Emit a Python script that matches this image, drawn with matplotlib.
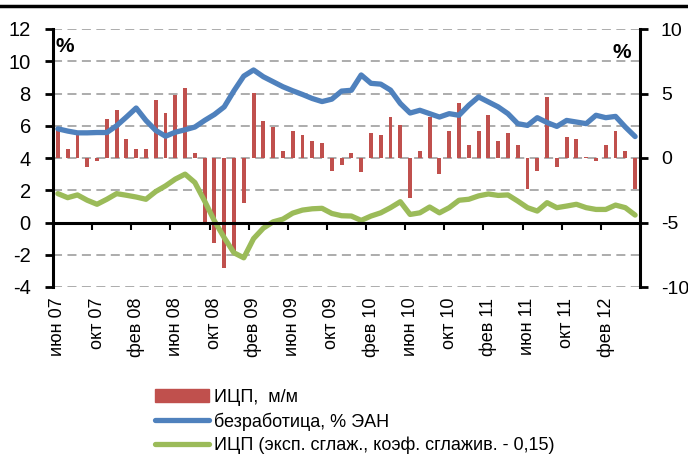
import numpy as np
import matplotlib
matplotlib.use("Agg")
import matplotlib.pyplot as plt
from matplotlib.lines import Line2D
from matplotlib.patches import Patch

plt.rcParams['font.family'] = ['Liberation Sans', 'DejaVu Sans']
plt.rcParams['axes.unicode_minus'] = False

# monthly data, Jun 2007 - May 2012
PPI_MM = [2.2, 0.7, 1.85, -0.68, -0.22, 3.05, 3.7, 1.48, 0.7, 0.7,
          4.48, 3.5, 4.92, 5.39, 0.4, -5.16, -6.62, -8.5, -7.4, -3.5,
          5.05, 2.86, 2.4, 0.57, 2.08, 1.77, 1.3, 1.15, -0.99, -0.52,
          0.36, -1.12, 1.93, 1.77, 3.18, 2.58, -3.13, 0.57, 3.18, -1.25,
          2.08, 4.27, 1.02, 2.08, 3.36, 1.35, 1.93, 1.02, -2.42, -0.99,
          4.74, -0.68, 1.61, 1.48, 0.05, -0.2, 1.02, 2.13, 0.57, -2.42]

UNEMPLOYMENT = [5.81, 5.67, 5.56, 5.56, 5.58, 5.58, 6.0, 6.54, 7.1, 6.33,
                5.71, 5.35, 5.6, 5.75, 5.92, 6.33, 6.7, 7.17, 8.17, 9.08,
                9.46, 9.04, 8.73, 8.42, 8.17, 7.94, 7.69, 7.5, 7.65, 8.15,
                8.2, 9.15, 8.63, 8.58, 8.21, 7.38, 6.79, 6.96, 6.75, 6.54,
                6.75, 6.65, 7.27, 7.79, 7.48, 7.17, 6.75, 6.13, 6.02, 6.5,
                6.2, 5.96, 6.33, 6.23, 6.13, 6.65, 6.5, 6.58, 5.92, 5.33]

PPI_SMOOTH = [1.79, 1.54, 1.71, 1.38, 1.13, 1.44, 1.79, 1.69, 1.58, 1.44,
              1.92, 2.27, 2.69, 3.0, 2.48, 1.33, 0.1, -0.94, -1.88, -2.19,
              -1.0, -0.35, 0.04, 0.21, 0.58, 0.77, 0.85, 0.88, 0.56, 0.42,
              0.4, 0.13, 0.4, 0.6, 0.92, 1.29, 0.5, 0.6, 0.96, 0.6,
              0.92, 1.38, 1.44, 1.65, 1.77, 1.68, 1.71, 1.33, 0.92, 0.71,
              1.23, 0.92, 1.02, 1.13, 0.92, 0.81, 0.81, 1.08, 0.92, 0.46]

TICK_LABELS = ["июн 07", "окт 07", "фев 08", "июн 08", "окт 08",
               "фев 09", "июн 09", "окт 09", "фев 10", "июн 10",
               "окт 10", "фев 11", "июн 11", "окт 11", "фев 12"]

LEGEND_LABELS = ["ИЦП,  м/м", "безработица, % ЭАН",
                 "ИЦП (эксп. сглаж., коэф. сглажив. - 0,15)"]

RED = "#C0504D"
BLUE = "#4F81BD"
GREEN = "#9BBB59"

x = np.arange(len(PPI_MM))

fig = plt.figure(figsize=(6.88, 4.55), dpi=100)
ax = fig.add_axes([53 / 688, 1 - 287 / 455, 587 / 688, 258 / 455])
ax2 = ax.twinx()
ax.set_zorder(ax2.get_zorder() + 1)
ax.patch.set_visible(False)

# -------------------
# bars on the right axis
# -------------------
ax2.bar(x, PPI_MM, width=0.4, color=RED, zorder=2)
ax2.set_ylim(-10, 10)
ax2.set_yticks([-10, -5, 0, 5, 10])
ax2.set_yticks(np.arange(-10, 10.1, 2.5), minor=True)
ax2.set_axisbelow(True)
ax2.grid(axis='y', which='both', color='#A6A6A6', linestyle=(0, (5, 3)),
         linewidth=1.3)
ax2.tick_params(axis='y', which='major', direction='out', length=6, width=2,
                labelsize=14, pad=9)
ax2.tick_params(axis='y', which='minor', length=0)
for s in ['top', 'bottom', 'left']:
    ax2.spines[s].set_visible(False)
ax2.spines['right'].set_linewidth(2.2)

# -------------------
# lines on the left axis
# -------------------
ax.plot(x, UNEMPLOYMENT, color=BLUE, linewidth=3.8, solid_capstyle='round',
        solid_joinstyle='round')
ax.plot(x, PPI_SMOOTH, color=GREEN, linewidth=3.8, solid_capstyle='round',
        solid_joinstyle='round')
ax.set_ylim(-4, 12)
ax.set_yticks(np.arange(-4, 12.1, 2))
ax.tick_params(axis='y', direction='out', length=6, width=2, labelsize=14.5,
               pad=10)
ax.set_xlim(-0.5, len(x) - 0.5)

ax.spines['top'].set_visible(False)
ax.spines['right'].set_visible(False)
ax.spines['left'].set_linewidth(2.2)
ax.spines['bottom'].set_position(('data', 0))
ax.spines['bottom'].set_linewidth(2.2)
ax.set_xticks(np.arange(-0.5, len(x), 4))
ax.set_xticklabels([])
ax.tick_params(axis='x', which='major', direction='out', length=5, width=1.5)
ax.set_xticks(np.arange(0, len(x), 4), minor=True)
ax.set_xticklabels(TICK_LABELS, minor=True, rotation=90, fontsize=13)
ax.tick_params(axis='x', which='minor', length=0, pad=54)

ax.text(0.005, 0.97, "%", transform=ax.transAxes, fontsize=15,
        fontweight='bold', ha='left', va='top')
ax.text(0.985, 0.945, "%", transform=ax.transAxes, fontsize=15,
        fontweight='bold', ha='right', va='top')

# top border line
fig.add_artist(Line2D([0, 1], [1 - 6 / 455, 1 - 6 / 455], color='black',
                      linewidth=2.5, transform=fig.transFigure))

handles = [Patch(color=RED),
           Line2D([], [], color=BLUE, linewidth=3.8, solid_capstyle='round'),
           Line2D([], [], color=GREEN, linewidth=3.8, solid_capstyle='round')]
fig.legend(handles, LEGEND_LABELS, loc='upper left',
           bbox_to_anchor=(146 / 688, 1 - 380 / 455), frameon=False,
           fontsize=13, handlelength=3.0, handleheight=0.75,
           handletextpad=0.25, labelspacing=0.35, borderpad=0)

fig.savefig("out.png", dpi=100)
